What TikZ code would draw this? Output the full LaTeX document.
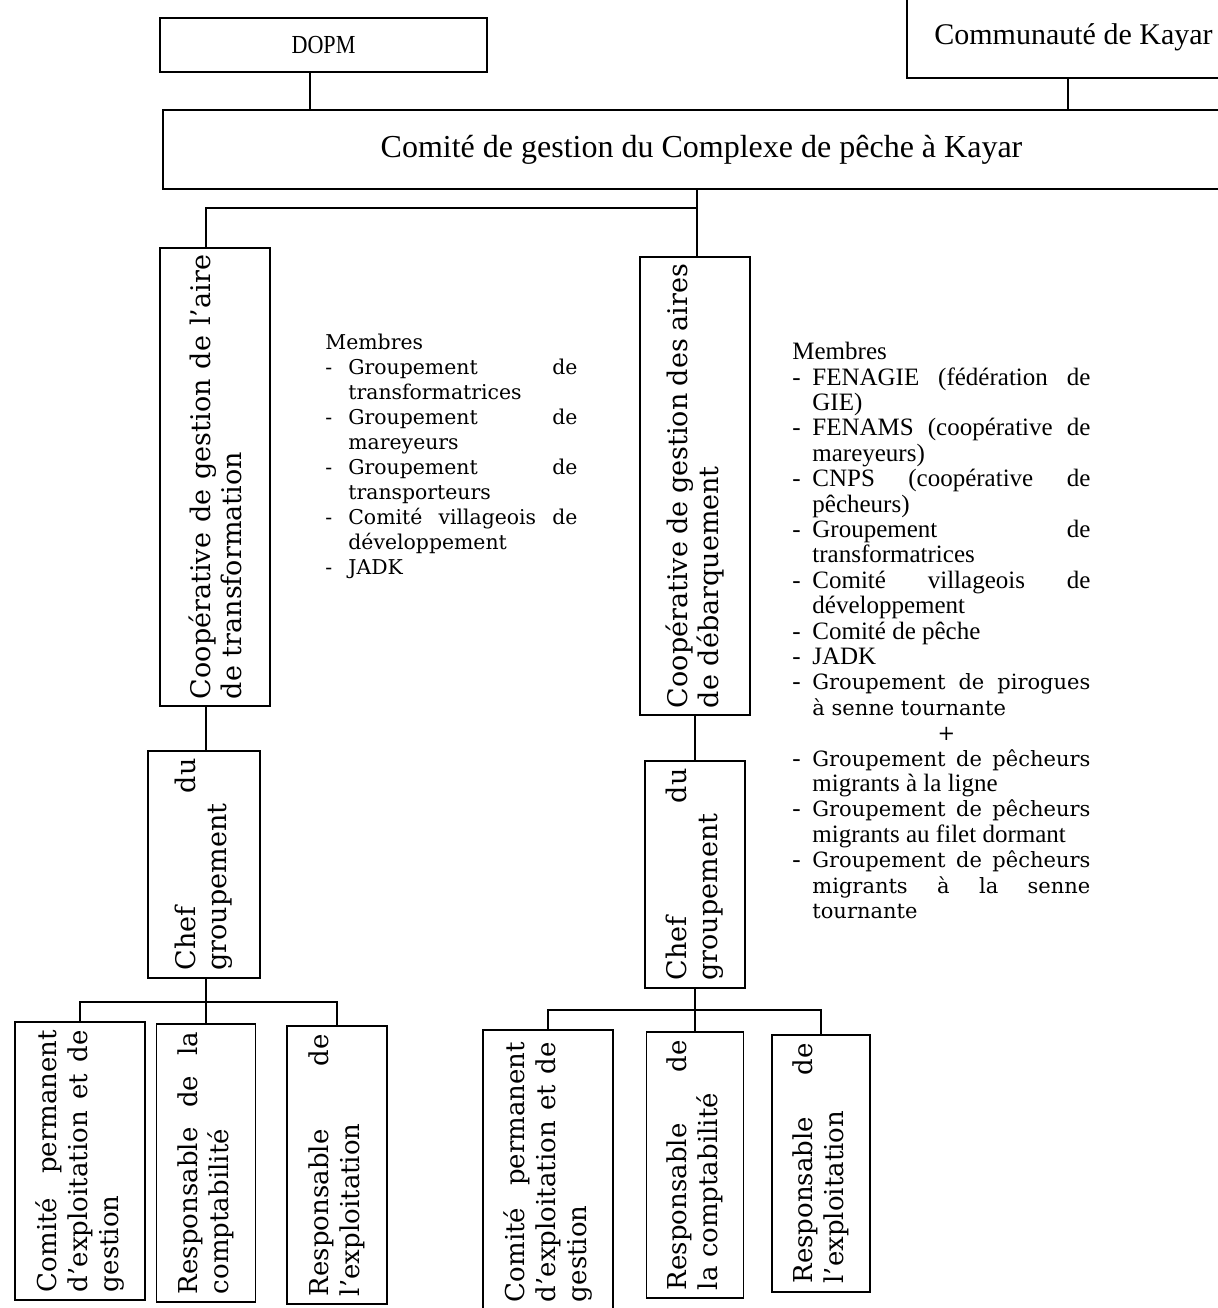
\documentclass[tikz,border=0pt]{standalone}
\usepackage{fontspec}
\setmainfont{DejaVu Serif}
\newfontfamily\tmsf{Liberation Serif}
\newcommand{\jl}[2]{\makebox[#1][s]{#2}}
\newcommand{\da}{\makebox[11.5pt][l]{-}}
\newcommand{\ia}{\makebox[11.5pt]{}}
\newcommand{\db}{\makebox[10pt][l]{-}}
\newcommand{\ib}{\makebox[10pt]{}}
\newcommand{\bk}{\rmfamily\fontsize{10.5}{12.7}\selectfont}
\begin{document}
\begin{tikzpicture}[x=0.5pt,y=-0.5pt,
  bx/.style={draw, line width=0.9pt, inner sep=0pt},
  ln/.style={line width=0.9pt},
  rt/.style={rotate=90, align=left, inner sep=0pt, font=\fontsize{13.5}{15.5}\selectfont},
  rtb/.style={rotate=90, align=left, inner sep=0pt, font=\fontsize{13}{15.5}\selectfont},
  lst/.style={anchor=north west, inner sep=0pt, align=left}]
\useasboundingbox (0,0) rectangle (1218,1308);
\fill[white] (0,0) rectangle (1218,1308);
\clip (0,0) rectangle (1218,1308);

% top level
\node[bx, minimum width=163.5pt, minimum height=27pt, font=\tmsf\fontsize{13}{15}\selectfont] (dopm) at (323.5,45) {\scalebox{0.85}[1]{DOPM}};
\node[bx, minimum width=166.5pt, minimum height=40.5pt, font=\tmsf\fontsize{15}{17}\selectfont] (comm) at (1073.5,37.5) {\raisebox{-2pt}{Communaut\'e de Kayar}};
\node[bx, minimum width=538.5pt, minimum height=39.5pt, font=\tmsf\fontsize{16}{18}\selectfont] (comite) at (701.5,149.5) {Comit\'e de gestion du Complexe de p\^eche \`a Kayar};

\coordinate (cx1) at (310,0);
\coordinate (cx2) at (1068,0);
\draw[ln] (dopm.south -| cx1) -- (comite.north -| cx1);
\draw[ln] (comm.south -| cx2) -- (comite.north -| cx2);

% cooperatives
\node[bx, minimum width=55pt, minimum height=229pt] (coop1) at (215,477) {};
\node[rt] (coop1t) at (coop1.center) {\jl{222pt}{Coopérative de gestion de l'aire}\\de transformation};
\node[bx, minimum width=55pt, minimum height=229pt] (coop2) at (695,486) {};
\node[rt] (coop2t) at (coop2.center) {\jl{222pt}{Coopérative de gestion des aires}\\de débarquement};

\coordinate (colL) at (206,0);
\coordinate (colR) at (695,0);
\coordinate (b0) at (697,208);
\draw[ln] (comite.south -| b0) -- (b0) -- (b0 -| colL) -- (coop1.north -| colL);
\draw[ln] (b0) -- (coop2.north -| b0);

% chefs
\node[bx, minimum width=56pt, minimum height=113.5pt] (chef1) at (204,864.5) {};
\node[rt] (chef1t) at (chef1.center) {\jl{106pt}{Chef du}\\groupement};
\node[bx, minimum width=50pt, minimum height=113.5pt] (chef2) at (695,874.5) {};
\node[rt] (chef2t) at (chef2.center) {\jl{106pt}{Chef du}\\groupement};
\draw[ln] (coop1.south -| colL) -- (chef1.north -| colL);
\draw[ln] (coop2.south -| colR) -- (chef2.north -| colR);

% bottom boxes left
\node[bx, minimum width=65pt, minimum height=139pt] (a1) at (80,1161) {};
\node[rtb] (a1t) at (a1.center) {\jl{131pt}{Comité permanent}\\\jl{131pt}{d'exploitation et de}\\gestion};
\node[bx, minimum width=49.5pt, minimum height=139pt] (b1) at (206,1163) {};
\node[rtb] (b1t) at (b1.center) {\jl{131pt}{Responsable de la}\\comptabilité};
\node[bx, minimum width=50pt, minimum height=139pt] (c1) at (337,1165) {};
\node[rtb] (c1t) at (c1.center) {\jl{131pt}{Responsable de}\\l'exploitation};
\coordinate (bus1) at (206,1002);
\draw[ln] (chef1.south -| colL) -- (bus1) -- (b1.north);
\draw[ln] (a1.north) |- (bus1) -| (c1.north);

% bottom boxes right
\node[bx, minimum width=65pt, minimum height=145pt] (a2) at (548,1175) {};
\node[rtb] (a2t) at (548,1172) {\jl{130pt}{Comité permanent}\\\jl{130pt}{d'exploitation et de}\\gestion};
\node[bx, minimum width=48.5pt, minimum height=133pt] (b2) at (695,1165) {};
\node[rtb] (b2t) at (b2.center) {\jl{125pt}{Responsable de}\\la comptabilité};
\node[bx, minimum width=49pt, minimum height=128.5pt] (c2) at (821,1163.5) {};
\node[rtb] (c2t) at (c2.center) {\jl{120pt}{Responsable de}\\l'exploitation};
\coordinate (bus2) at (695,1010);
\draw[ln] (chef2.south -| colR) -- (bus2) -- (b2.north);
\draw[ln] (a2.north) |- (bus2) -| (c2.north);

% member lists
\node[lst, font=\fontsize{10.2}{12.5}\selectfont] (mem1) at (325,334) {Membres\\
\da\jl{114.5pt}{Groupement de}\\
\ia transformatrices\\
\da\jl{114.5pt}{Groupement de}\\
\ia mareyeurs\\
\da\jl{114.5pt}{Groupement de}\\
\ia transporteurs\\
\da\jl{114.5pt}{Comité villageois de}\\
\ia développement\\
\da JADK};

\node[lst, font=\tmsf\fontsize{12.5}{12.7}\selectfont] (mem2) at (792,342) {Membres\\
\db\jl{139pt}{FENAGIE (fédération de}\\
\ib GIE)\\
\db\jl{139pt}{FENAMS (coopérative de}\\
\ib mareyeurs)\\
\db\jl{139pt}{CNPS (coopérative de}\\
\ib pêcheurs)\\
\db\jl{139pt}{Groupement de}\\
\ib transformatrices\\
\db\jl{139pt}{Comité villageois de}\\
\ib développement\\
\db Comité de pêche\\
\db JADK\\
\db\jl{139pt}{\bk Groupement de pirogues}\\
\ib{\bk à senne tournante}\\
\ib\makebox[134pt]{\bk +}\\
\db\jl{139pt}{\bk Groupement de pêcheurs}\\
\ib migrants à la ligne\\
\db\jl{139pt}{\bk Groupement de pêcheurs}\\
\ib migrants au filet dormant\\
\db\jl{139pt}{\bk Groupement de pêcheurs}\\
\ib\jl{139pt}{\bk migrants à la senne}\\
\ib{\bk tournante}};
\end{tikzpicture}
\end{document}
